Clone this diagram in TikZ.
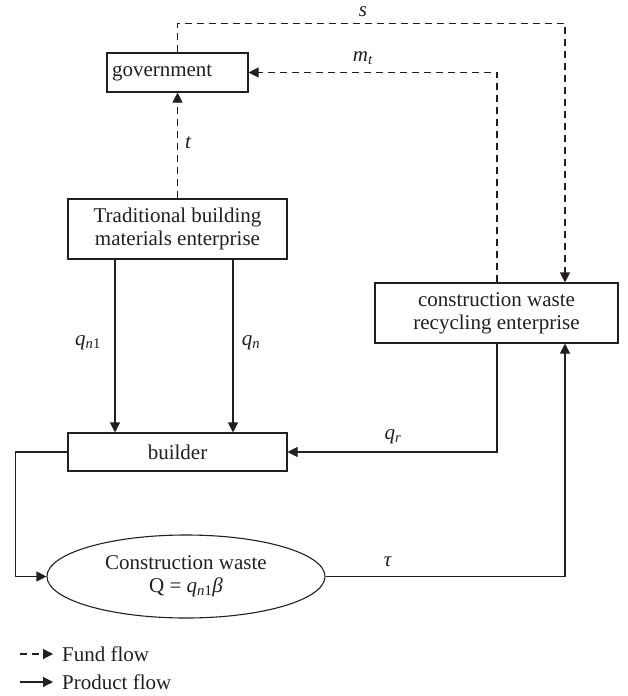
\documentclass[tikz,border=0pt]{standalone}
\usepackage{fontspec}
\setmainfont{Liberation Serif}
\usetikzlibrary{arrows.meta,shapes.geometric,positioning}
\definecolor{FlowInk}{HTML}{231F20}
\newcommand{\flowvar}[2]{\textit{#1}\textsubscript{#2}}
\tikzset{
  >={Triangle[length=10pt,width=10pt]},
  agent/.style={draw=FlowInk,line width=1.1pt,fill=white,align=center,
    inner sep=0pt,font=\fontsize{21}{23}\selectfont,text=FlowInk},
  wastebox/.style={agent,ellipse},
  fund/.style={->,line width=1.1pt,draw=FlowInk,dash pattern=on 7pt off 5pt},
  product/.style={->,line width=1.1pt,draw=FlowInk},
  lab/.style={font=\fontsize{21}{23}\selectfont,text=FlowInk,inner sep=1pt}
}

\begin{document}
\begin{tikzpicture}[x=1pt,y=-1pt]
  \fill[white] (0,0) rectangle (628,696);
  \useasboundingbox (0,0) rectangle (628,696);

  \node[agent,minimum width=141pt,minimum height=39pt,text width=131pt,align=left] (gov) at (177.5,72.5) {government};
  \node[agent,minimum width=219pt,minimum height=60pt] (trad) at (177.5,229) {Traditional building\\materials enterprise};
  \node[agent,minimum width=219pt,minimum height=38pt] (builder) at (177.5,452) {builder};
  \node[agent,minimum width=243pt,minimum height=60pt] (recyc) at (496.5,313) {construction waste\\recycling enterprise};
  \node[wastebox,minimum width=278pt,minimum height=83pt] (waste) at (186,576.5) {Construction waste\\Q = \flowvar{q}{\textit{n}1}\textit{β}};

  % fund flows
  \draw[fund] (gov.north) -- ++(0,-29) -| ([xshift=68.5pt]recyc.north);
  \draw[fund] ([xshift=0.5pt]recyc.north) |- (gov.east);
  \draw[fund] (trad.north) -- (gov.south);

  % product flows
  \draw[product] ([xshift=-62.5pt]trad.south) -- ([xshift=-62.5pt]builder.north);
  \draw[product] ([xshift=55.5pt]trad.south) -- ([xshift=55.5pt]builder.north);
  \draw[product] ([xshift=0.5pt]recyc.south) |- (builder.east);
  \draw[product] (builder.west) -- ++(-52,0) |- (waste.west);
  \draw[product] (waste.east) -| ([xshift=68.5pt]recyc.south);

  \node[lab] (slab) at (363,12) {\textit{s}};
  \node[lab] (mlab) at (363,58) {\flowvar{m}{\textit{t}}};
  \node[lab,anchor=west] (tlab) at (184,143) {\textit{t}};
  \node[lab] (qnonelab) at (88,343) {\flowvar{q}{\textit{n}1}};
  \node[lab] (qnlab) at (251,343) {\flowvar{q}{\textit{n}}};
  \node[lab] (qrlab) at (393,437) {\flowvar{q}{\textit{r}}};
  \node[lab] (taulab) at (388,562) {\textit{τ}};

  % legend
  \coordinate (fundtail) at (20,654);
  \coordinate (fundhead) at (53,654);
  \coordinate (prodtail) at (20,682);
  \coordinate (prodhead) at (53,682);
  \draw[fund] (fundtail) -- (fundhead);
  \draw[product] (prodtail) -- (prodhead);
  \node[lab,anchor=west] (fundtxt) at (61,654) {Fund flow};
  \node[lab,anchor=west] (prodtxt) at (61,682) {Product flow};
\end{tikzpicture}
\end{document}
